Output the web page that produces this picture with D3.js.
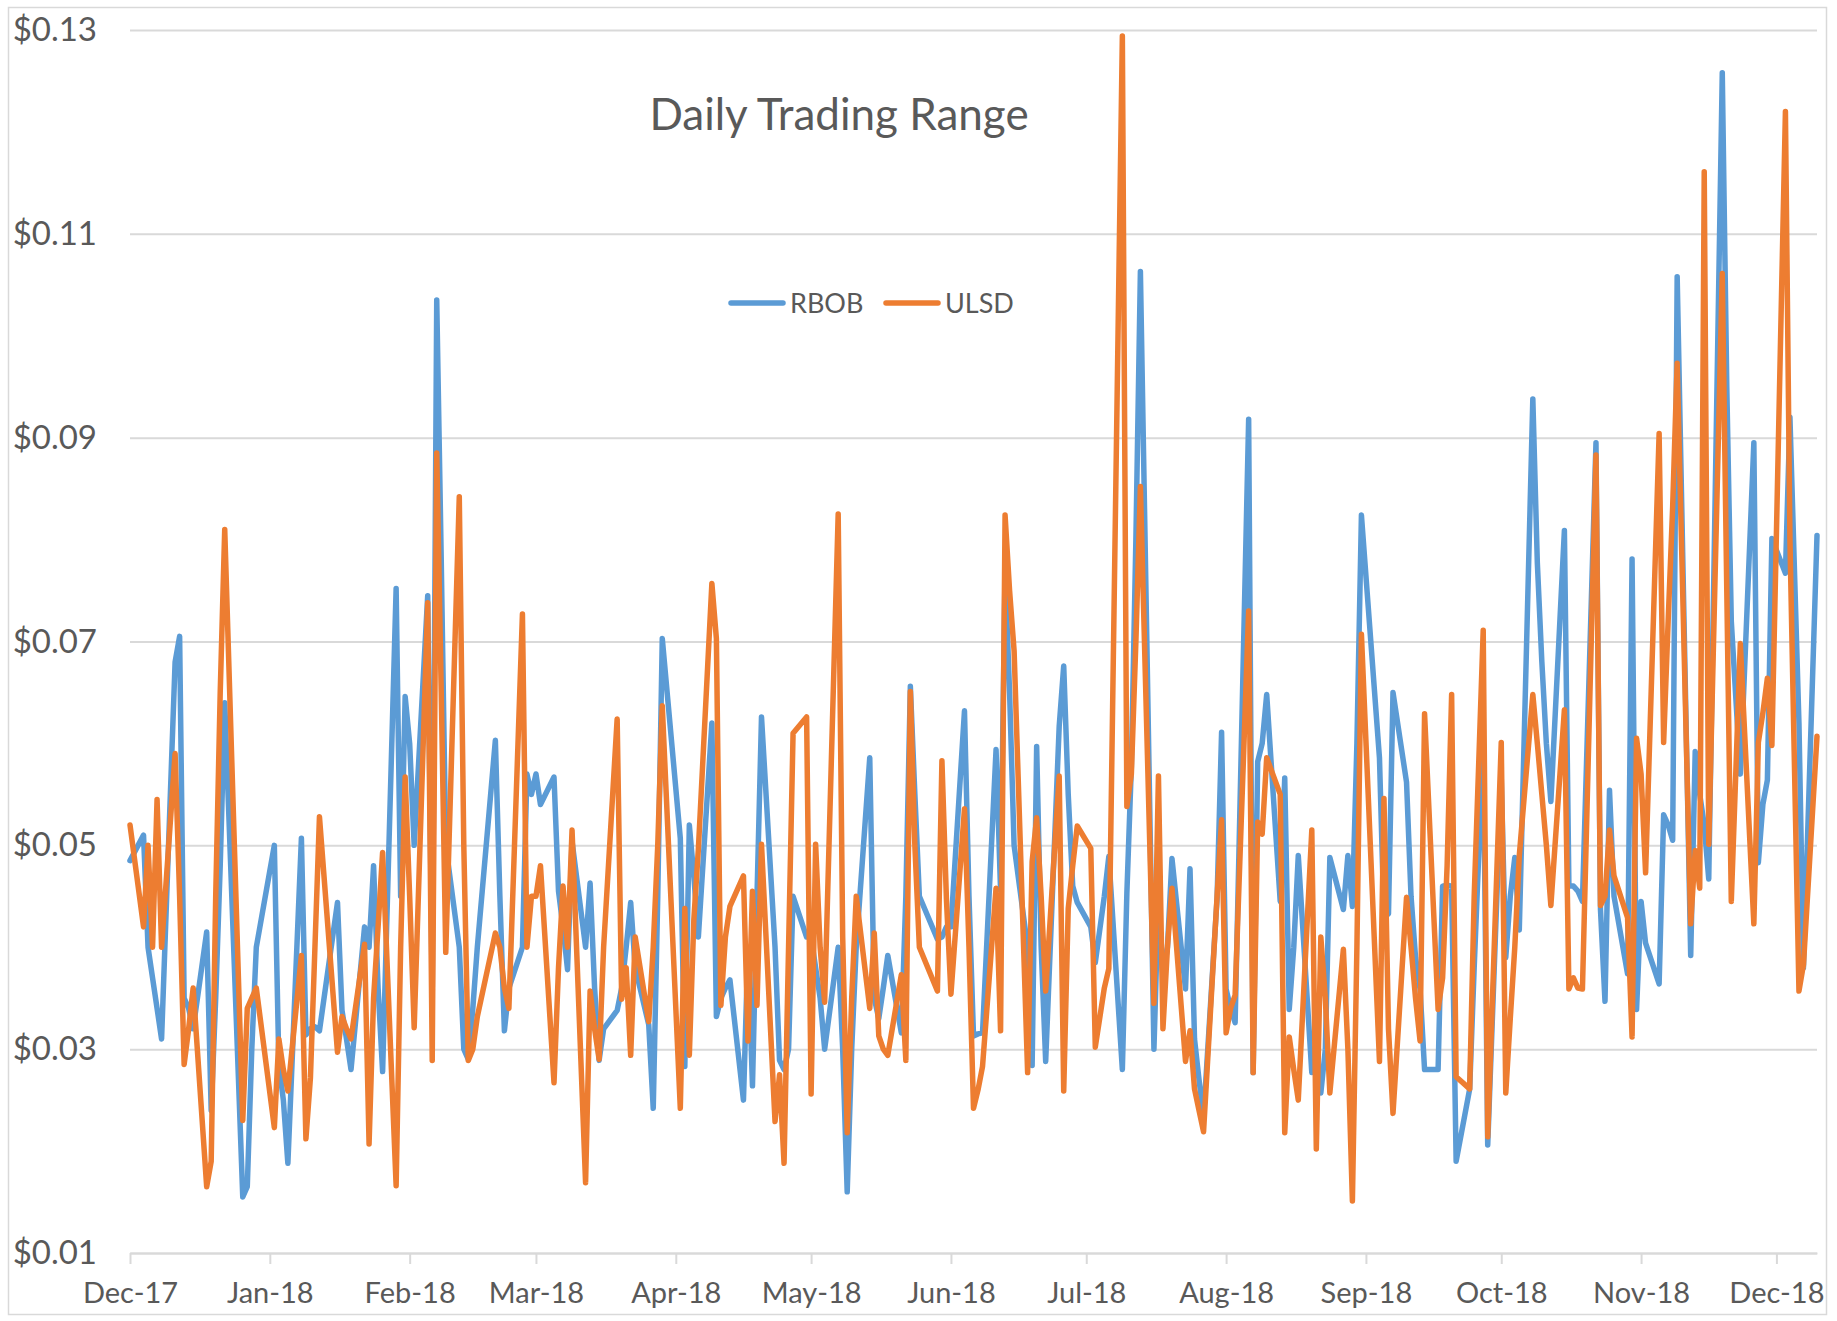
<!DOCTYPE html>
<html>
<head>
<meta charset="utf-8">
<script src="https://cdn.jsdelivr.net/npm/d3@7"></script>
<style>
  html, body { margin: 0; padding: 0; background: #fff; }
  svg text { font-family: Lato, "Open Sans", sans-serif; fill: #595959; }
</style>
</head>
<body>
<div id="chart"></div>
<script>
// trading days: weekdays from Dec 1 2017 to Dec 10 2018, exchange holidays removed
const startDate = '2017-12-01'
const endDate = '2018-12-10'
const holidays = ['2017-12-25', '2018-01-01', '2018-01-15', '2018-02-19', '2018-03-30',
  '2018-05-28', '2018-07-04', '2018-09-03', '2018-11-22', '2018-12-05']

// daily trading range, $/gal, one value per trading day, month by month
const rbob = [
  // Dec-17
  0.0485, 0.051, 0.040, 0.037, 0.034, 0.031, 0.068, 0.0705, 0.035, 0.034,
  0.032, 0.0415, 0.024, 0.035, 0.048, 0.064, 0.0155, 0.0165, 0.030, 0.040,
  // Jan-18
  0.050, 0.0285, 0.025, 0.0188, 0.0507, 0.0314, 0.032, 0.0322, 0.0318, 0.0444,
  0.0338, 0.031, 0.028, 0.042, 0.040, 0.048, 0.036, 0.0278, 0.0752, 0.045, 0.0646,
  // Feb-18
  0.060, 0.050, 0.0745, 0.035, 0.1035, 0.078, 0.050, 0.040, 0.030, 0.029,
  0.034, 0.040, 0.0603, 0.045, 0.0318, 0.036, 0.040, 0.057, 0.055,
  // Mar-18
  0.057, 0.054, 0.0567, 0.0455, 0.042, 0.0378, 0.0504, 0.040, 0.0463, 0.036,
  0.0289, 0.032, 0.0338, 0.036, 0.040, 0.0444, 0.038, 0.0324, 0.0242, 0.045, 0.0703,
  // Apr-18
  0.0507, 0.0283, 0.052, 0.047, 0.041, 0.062, 0.0332, 0.035, 0.036, 0.0368,
  0.025, 0.040, 0.0264, 0.045, 0.0626, 0.040, 0.0289, 0.028, 0.030, 0.045, 0.041,
  // May-18
  0.041, 0.038, 0.035, 0.030, 0.040, 0.030, 0.016, 0.030, 0.040, 0.0586,
  0.035, 0.033, 0.036, 0.0392, 0.0316, 0.045, 0.0656, 0.055, 0.045, 0.0408, 0.041, 0.042,
  // Jun-18
  0.042, 0.0632, 0.045, 0.0313, 0.0315, 0.0316, 0.0594, 0.0456, 0.077, 0.065,
  0.050, 0.040, 0.0284, 0.0597, 0.040, 0.0288, 0.0617, 0.0676, 0.055, 0.046, 0.0444,
  // Jul-18
  0.042, 0.0385, 0.045, 0.0489, 0.028, 0.0453, 0.0578, 0.080, 0.1063, 0.030,
  0.045, 0.0371, 0.040, 0.0487, 0.0359, 0.0477, 0.031, 0.027, 0.0233, 0.0448, 0.0611,
  // Aug-18
  0.0359, 0.034, 0.0326, 0.0918, 0.0277, 0.0582, 0.060, 0.0648, 0.0445, 0.0566,
  0.0339, 0.040, 0.049, 0.0277, 0.030, 0.0257, 0.030, 0.0488, 0.0437, 0.049,
  0.044, 0.060, 0.0824,
  // Sep-18
  0.0586, 0.0429, 0.0433, 0.065, 0.0562, 0.045, 0.039, 0.0359, 0.028, 0.028,
  0.046, 0.0461, 0.046, 0.019, 0.0261, 0.038, 0.049, 0.0605, 0.0206,
  // Oct-18
  0.0566, 0.039, 0.045, 0.0488, 0.0417, 0.0938, 0.0777, 0.068, 0.060, 0.0543,
  0.0809, 0.046, 0.046, 0.0455, 0.0445, 0.0895, 0.0437, 0.0347, 0.0554, 0.045,
  0.0374, 0.0781, 0.0339,
  // Nov-18
  0.0445, 0.0404, 0.0364, 0.053, 0.052, 0.0505, 0.1058, 0.0392, 0.0592, 0.055,
  0.052, 0.0467, 0.1258, 0.095, 0.072, 0.057, 0.0895, 0.0483, 0.054, 0.0564, 0.0801,
  // Dec-18
  0.0767, 0.092, 0.062, 0.038, 0.0804
]

const ulsd = [
  // Dec-17
  0.052, 0.042, 0.050, 0.040, 0.0545, 0.040, 0.059, 0.045, 0.0285, 0.032,
  0.036, 0.0165, 0.019, 0.045, 0.065, 0.081, 0.023, 0.034, 0.035, 0.036,
  // Jan-18
  0.0223, 0.031, 0.028, 0.0259, 0.0392, 0.0212, 0.0272, 0.040, 0.0528, 0.0297,
  0.0332, 0.032, 0.031, 0.0403, 0.0207, 0.035, 0.042, 0.0493, 0.0166, 0.040, 0.0567,
  // Feb-18
  0.045, 0.0321, 0.0738, 0.0289, 0.0885, 0.065, 0.0395, 0.0842, 0.050, 0.0289,
  0.030, 0.0332, 0.0414, 0.040, 0.036, 0.034, 0.0727, 0.040, 0.045,
  // Mar-18
  0.045, 0.048, 0.0267, 0.038, 0.046, 0.040, 0.0515, 0.0169, 0.0357, 0.032,
  0.029, 0.040, 0.0624, 0.0349, 0.038, 0.0294, 0.041, 0.0327, 0.040, 0.050, 0.0637,
  // Apr-18
  0.0242, 0.0438, 0.0294, 0.0427, 0.0496, 0.0757, 0.0703, 0.0343, 0.041, 0.044,
  0.047, 0.0308, 0.0455, 0.0343, 0.0501, 0.0229, 0.0275, 0.0188, 0.040, 0.061, 0.0626,
  // May-18
  0.0256, 0.0501, 0.040, 0.0346, 0.0825, 0.041, 0.0218, 0.035, 0.045, 0.034,
  0.0414, 0.0313, 0.030, 0.0294, 0.0373, 0.0289, 0.0651, 0.050, 0.040, 0.0357, 0.0583, 0.0447,
  // Jun-18
  0.0354, 0.0536, 0.040, 0.0242, 0.026, 0.0283, 0.0458, 0.0318, 0.0824, 0.075,
  0.0691, 0.0277, 0.0484, 0.0527, 0.045, 0.0357, 0.0568, 0.0259, 0.0438, 0.048, 0.0519,
  // Jul-18
  0.0497, 0.0302, 0.036, 0.0379, 0.1294, 0.0538, 0.057, 0.070, 0.0852, 0.0345,
  0.0568, 0.032, 0.040, 0.0458, 0.0288, 0.0318, 0.0261, 0.024, 0.0219, 0.045, 0.0525,
  // Aug-18
  0.0316, 0.034, 0.0353, 0.073, 0.0277, 0.0523, 0.0511, 0.0586, 0.055, 0.0218,
  0.0312, 0.028, 0.025, 0.0515, 0.0202, 0.041, 0.035, 0.0257, 0.0398, 0.030,
  0.0151, 0.040, 0.0707,
  // Sep-18
  0.0288, 0.0546, 0.032, 0.0237, 0.0449, 0.040, 0.035, 0.0308, 0.0629, 0.0339,
  0.037, 0.048, 0.0648, 0.0273, 0.0261, 0.045, 0.058, 0.0711, 0.0214,
  // Oct-18
  0.0601, 0.0257, 0.033, 0.040, 0.049, 0.0648, 0.060, 0.055, 0.050, 0.0441,
  0.0633, 0.0359, 0.037, 0.036, 0.0359, 0.0883, 0.0441, 0.045, 0.0515, 0.047,
  0.0429, 0.0312, 0.0605,
  // Nov-18
  0.057, 0.0473, 0.0904, 0.0601, 0.072, 0.0832, 0.0973, 0.0423, 0.0495, 0.0458,
  0.1161, 0.0501, 0.1061, 0.075, 0.0445, 0.0698, 0.0423, 0.0601, 0.063, 0.0664, 0.0598,
  // Dec-18
  0.122, 0.080, 0.0357, 0.0383, 0.0607
]

const yTicks = [0.01, 0.03, 0.05, 0.07, 0.09, 0.11, 0.13]
const seriesNames = ['RBOB', 'ULSD']
const colors = ['#5B9BD5', '#ED7D31']

const parse = d3.utcParse('%Y-%m-%d')
const fmtDay = d3.utcFormat('%Y-%m-%d')
const first = parse(startDate)
const last = parse(endDate)
const dates = d3.utcDay.range(first, d3.utcDay.offset(last, 1))
  .filter(d => d.getUTCDay() !== 0 && d.getUTCDay() !== 6 && !holidays.includes(fmtDay(d)))

const width = 1837
const height = 1321
const plot = { left: 130, right: 1817, top: 30, bottom: 1253 }

const svg = d3.select('#chart').append('svg')
  .attr('width', width)
  .attr('height', height)

svg.append('rect')
  .attr('x', 8.5).attr('y', 7.5)
  .attr('width', 1818).attr('height', 1307)
  .attr('fill', '#fff')
  .attr('stroke', '#d9d9d9')
  .attr('stroke-width', 1.5)

const x = d3.scaleUtc().domain([first, last]).range([plot.left, plot.right])
const y = d3.scaleLinear().domain([0.01, 0.13]).range([plot.bottom, plot.top])

// y axis with gridlines
const yAxis = svg.append('g')
  .attr('transform', `translate(${plot.left},0)`)
  .call(d3.axisLeft(y)
    .tickValues(yTicks)
    .tickSize(-(plot.right - plot.left))
    .tickPadding(33)
    .tickFormat(d => '$' + d3.format('.2f')(d)))
yAxis.select('.domain').remove()
yAxis.selectAll('line').attr('stroke', '#d9d9d9').attr('stroke-width', 2)
yAxis.selectAll('text')
  .attr('font-size', 33)
  .attr('fill', '#595959')
  .style('font-family', 'Lato, sans-serif')

// x axis, one tick per month
const xAxis = svg.append('g')
  .attr('transform', `translate(0,${plot.bottom})`)
  .call(d3.axisBottom(x)
    .tickValues(d3.utcMonth.range(first, d3.utcDay.offset(last, 1)))
    .tickSize(11)
    .tickSizeOuter(0)
    .tickPadding(18)
    .tickFormat(d3.utcFormat('%b-%y')))
xAxis.select('.domain').attr('stroke', '#d9d9d9').attr('stroke-width', 2)
xAxis.selectAll('line').attr('stroke', '#d9d9d9').attr('stroke-width', 2)
xAxis.selectAll('text')
  .attr('font-size', 29)
  .attr('fill', '#595959')
  .style('font-family', 'Lato, sans-serif')

const line = d3.line()
  .x(d => x(d.date))
  .y(d => y(d.val))

const series = [rbob, ulsd].map(vals => dates.map((date, i) => ({ date, val: vals[i] })))

svg.selectAll('.series')
  .data(series)
  .enter().append('path')
  .attr('class', 'series')
  .attr('fill', 'none')
  .attr('stroke', (d, i) => colors[i])
  .attr('stroke-width', 5.5)
  .attr('stroke-linejoin', 'round')
  .attr('stroke-linecap', 'round')
  .attr('d', line)

svg.append('text')
  .attr('x', 839)
  .attr('y', 130)
  .attr('text-anchor', 'middle')
  .attr('font-size', 44)
  .text('Daily Trading Range')

// legend
const legend = svg.append('g')
const legendX = [731, 886]
seriesNames.forEach((name, i) => {
  legend.append('line')
    .attr('x1', legendX[i]).attr('x2', legendX[i] + 52)
    .attr('y1', 303).attr('y2', 303)
    .attr('stroke', colors[i])
    .attr('stroke-width', 5.5)
    .attr('stroke-linecap', 'round')
  legend.append('text')
    .attr('x', legendX[i] + 59)
    .attr('y', 313)
    .attr('font-size', 27)
    .text(name)
})
</script>
</body>
</html>
